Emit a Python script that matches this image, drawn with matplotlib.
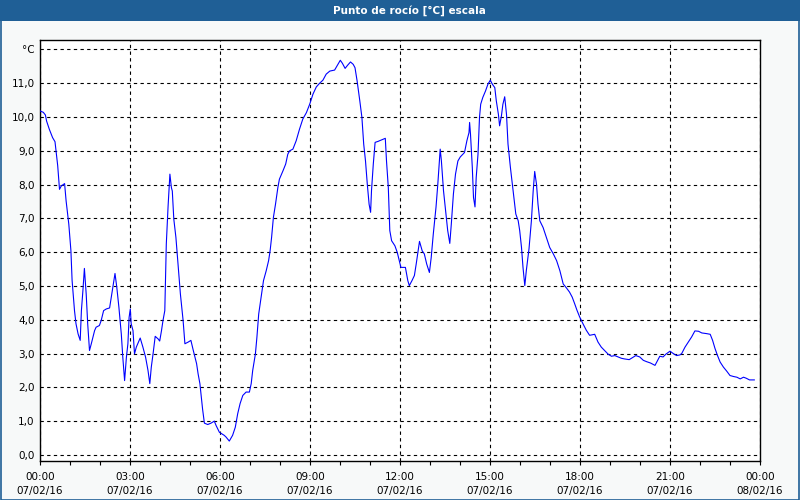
import matplotlib
matplotlib.use("Agg")
import matplotlib.pyplot as plt
from matplotlib.patches import Rectangle
from matplotlib.ticker import FixedLocator, MultipleLocator

# ---- data (hours since 07/02/16 00:00, dew point in °C) ----
hours = [
    0.00, 0.11, 0.18, 0.22, 0.31, 0.42, 0.50, 0.54, 0.59, 0.65, 0.71, 0.82, 0.87, 0.96,
    1.03, 1.07, 1.15, 1.20, 1.27, 1.34, 1.38, 1.43, 1.48, 1.54, 1.59, 1.65, 1.71, 1.82,
    1.87, 1.98, 2.04, 2.12, 2.21, 2.32, 2.41, 2.50, 2.56, 2.63, 2.71, 2.76, 2.82, 2.88,
    2.93, 2.97, 3.01, 3.04, 3.10, 3.15, 3.21, 3.34, 3.43, 3.52, 3.60, 3.66, 3.71, 3.77,
    3.84, 3.94, 3.99, 4.05, 4.10, 4.16, 4.21, 4.27, 4.33, 4.38, 4.41, 4.46, 4.53, 4.60,
    4.68, 4.77, 4.83, 4.94, 5.03, 5.11, 5.22, 5.27, 5.33, 5.42, 5.48, 5.59, 5.70, 5.81,
    5.87, 5.98, 6.14, 6.20, 6.31, 6.42, 6.51, 6.59, 6.67, 6.76, 6.87, 6.98, 7.04, 7.09,
    7.18, 7.23, 7.29, 7.37, 7.45, 7.54, 7.62, 7.67, 7.72, 7.78, 7.85, 7.93, 7.98, 8.10,
    8.19, 8.26, 8.32, 8.43, 8.54, 8.65, 8.76, 8.88, 8.99, 9.10, 9.21, 9.32, 9.43, 9.54,
    9.66, 9.82, 9.90, 10.01, 10.08, 10.17, 10.26, 10.35, 10.44, 10.50, 10.57, 10.66,
    10.73, 10.79, 10.85, 10.91, 10.97, 11.02, 11.05, 11.11, 11.17, 11.27, 11.38, 11.51,
    11.55, 11.61, 11.66, 11.72, 11.83, 11.91, 12.00, 12.03, 12.18, 12.26, 12.31, 12.40,
    12.48, 12.54, 12.65, 12.74, 12.81, 12.89, 12.98, 13.04, 13.11, 13.20, 13.26, 13.34,
    13.38, 13.45, 13.52, 13.59, 13.66, 13.71, 13.78, 13.85, 13.93, 14.01, 14.15, 14.23,
    14.30, 14.32, 14.35, 14.41, 14.45, 14.50, 14.54, 14.60, 14.65, 14.69, 14.76, 14.85,
    14.93, 15.01, 15.08, 15.16, 15.21, 15.28, 15.32, 15.38, 15.43, 15.49, 15.55, 15.60,
    15.68, 15.77, 15.86, 15.94, 15.99, 16.05, 16.10, 16.16, 16.21, 16.30, 16.38, 16.44,
    16.49, 16.55, 16.60, 16.66, 16.77, 16.88, 16.99, 17.11, 17.22, 17.33, 17.44, 17.55,
    17.65, 17.74, 17.82, 17.90, 17.99, 18.10, 18.21, 18.32, 18.49, 18.60, 18.71, 18.82,
    18.94, 19.05, 19.16, 19.27, 19.38, 19.49, 19.64, 19.75, 19.86, 19.99, 20.11, 20.22,
    20.35, 20.50, 20.59, 20.66, 20.77, 20.86, 21.00, 21.11, 21.22, 21.33, 21.39, 21.50,
    21.61, 21.72, 21.83, 21.95, 22.06, 22.22, 22.34, 22.42, 22.50, 22.58, 22.67, 22.78,
    22.89, 23.00, 23.12, 23.23, 23.34, 23.45, 23.54, 23.65, 23.81,
]
dew_point = [
    10.18, 10.14, 10.06, 9.88, 9.64, 9.39, 9.27, 8.95, 8.56, 7.86, 7.96, 8.03, 7.52, 6.83,
    6.05, 5.16, 4.27, 3.88, 3.58, 3.39, 4.27, 4.86, 5.52, 4.76, 3.88, 3.09, 3.29, 3.68,
    3.78, 3.83, 3.98, 4.27, 4.32, 4.35, 4.86, 5.37, 4.96, 4.37, 3.58, 2.89, 2.20, 2.89,
    3.29, 4.07, 4.32, 3.88, 3.68, 2.99, 3.19, 3.46, 3.19, 2.89, 2.50, 2.11, 2.60, 3.00,
    3.51, 3.43, 3.37, 3.68, 3.98, 4.27, 6.24, 7.37, 8.31, 7.91, 7.81, 6.98, 6.44, 5.65,
    4.76, 3.98, 3.29, 3.34, 3.39, 3.09, 2.70, 2.40, 2.11, 1.35, 0.94, 0.90, 0.94, 1.00,
    0.87, 0.67, 0.58, 0.53, 0.41, 0.58, 0.82, 1.22, 1.52, 1.76, 1.86, 1.86, 2.11, 2.50,
    2.99, 3.48, 4.17, 4.66, 5.16, 5.45, 5.75, 6.04, 6.44, 7.03, 7.42, 7.92, 8.16, 8.41,
    8.61, 8.90, 9.00, 9.05, 9.30, 9.64, 9.94, 10.13, 10.38, 10.68, 10.89, 11.00, 11.09, 11.27,
    11.36, 11.39, 11.51, 11.68, 11.59, 11.44, 11.54, 11.63, 11.56, 11.46, 11.07, 10.48,
    9.99, 9.20, 8.70, 8.01, 7.42, 7.18, 7.82, 8.61, 9.25, 9.28, 9.32, 9.37,
    8.70, 7.92, 6.64, 6.34, 6.19, 5.99, 5.65, 5.55, 5.55, 5.16, 5.01, 5.16,
    5.31, 5.65, 6.32, 6.04, 5.95, 5.65, 5.40, 5.84, 6.54, 7.33, 8.01, 9.05,
    8.70, 7.82, 7.23, 6.64, 6.26, 6.83, 7.72, 8.31, 8.70, 8.82, 8.95, 9.30,
    9.54, 9.84, 9.49, 8.51, 7.62, 7.34, 8.21, 8.90, 9.99, 10.38, 10.58, 10.77,
    10.97, 11.09, 10.97, 10.87, 10.48, 10.08, 9.74, 10.03, 10.38, 10.60, 10.08, 9.20,
    8.51, 7.82, 7.13, 6.93, 6.64, 6.14, 5.55, 5.01, 5.45, 6.10, 6.93, 7.82,
    8.39, 8.01, 7.42, 6.93, 6.73, 6.44, 6.14, 5.95, 5.75, 5.45, 5.06, 4.94,
    4.82, 4.67, 4.48, 4.28, 4.08, 3.88, 3.69, 3.54, 3.57, 3.34, 3.19, 3.09,
    2.98, 2.92, 2.94, 2.90, 2.86, 2.84, 2.82, 2.88, 2.94, 2.90, 2.80, 2.76,
    2.72, 2.65, 2.80, 2.92, 2.90, 2.98, 3.07, 3.00, 2.94, 2.96, 3.00, 3.19,
    3.34, 3.49, 3.67, 3.66, 3.61, 3.59, 3.57, 3.39, 3.15, 2.95, 2.75, 2.60,
    2.48, 2.35, 2.32, 2.30, 2.25, 2.30, 2.27, 2.22, 2.22,
]

title = "Punto de rocío [°C] escala"
x_tick_hours = [0, 3, 6, 9, 12, 15, 18, 21, 24]
x_tick_labels = ["00:00\n07/02/16", "03:00\n07/02/16", "06:00\n07/02/16",
                 "09:00\n07/02/16", "12:00\n07/02/16", "15:00\n07/02/16",
                 "18:00\n07/02/16", "21:00\n07/02/16", "00:00\n08/02/16"]
y_ticks = [0, 1, 2, 3, 4, 5, 6, 7, 8, 9, 10, 11, 12]
y_tick_labels = ["0,0", "1,0", "2,0", "3,0", "4,0", "5,0", "6,0", "7,0",
                 "8,0", "9,0", "10,0", "11,0", "°C"]

# ---- styling ----
plt.rcParams['font.family'] = ['DejaVu Sans']
W, H = 800, 500
fig = plt.figure(figsize=(W / 100, H / 100), dpi=100)
fig.patch.set_facecolor('#F7F9F9')

frame_blue = '#1F5F96'
# title bar
fig.patches.append(Rectangle((0, 1 - 21 / H), 1, 21 / H, transform=fig.transFigure,
                             facecolor=frame_blue, edgecolor='none', zorder=0))
# outer border
fig.patches.append(Rectangle((0.5 / W, 0.5 / H), 1 - 1.5 / W, 1 - 1.5 / H,
                             transform=fig.transFigure, facecolor='none',
                             edgecolor=frame_blue, linewidth=1.2, zorder=5))
fig.text(0.512, 1 - 10.5 / H, title, color='white', fontsize=7.5, fontweight='bold',
         ha='center', va='center')

ax = fig.add_axes([40 / W, 39 / H, 720 / W, 421 / H])
ax.set_facecolor('white')
ax.plot(hours, dew_point, color='#0000FF', linewidth=0.8, zorder=3)

ax.set_xlim(0, 24)
ax.set_ylim(-0.18, 12.28)

ax.xaxis.set_major_locator(FixedLocator(x_tick_hours))
ax.set_xticklabels(x_tick_labels, fontsize=7.5, linespacing=1.45)
ax.xaxis.set_minor_locator(MultipleLocator(1))
ax.tick_params(axis='x', which='both', direction='out', length=3, width=0.8,
               color='black', pad=5)
ax.set_yticks(y_ticks)
ax.set_yticklabels(y_tick_labels, fontsize=7.5)
ax.tick_params(axis='y', which='both', length=0, pad=4)

ax.grid(True, which='major', color='black', linestyle=(0, (3, 3)), linewidth=0.8)
ax.set_axisbelow(True)
for s in ax.spines.values():
    s.set_color('black')
    s.set_linewidth(1.0)

fig.savefig('out.png', dpi=100, facecolor=fig.get_facecolor())
